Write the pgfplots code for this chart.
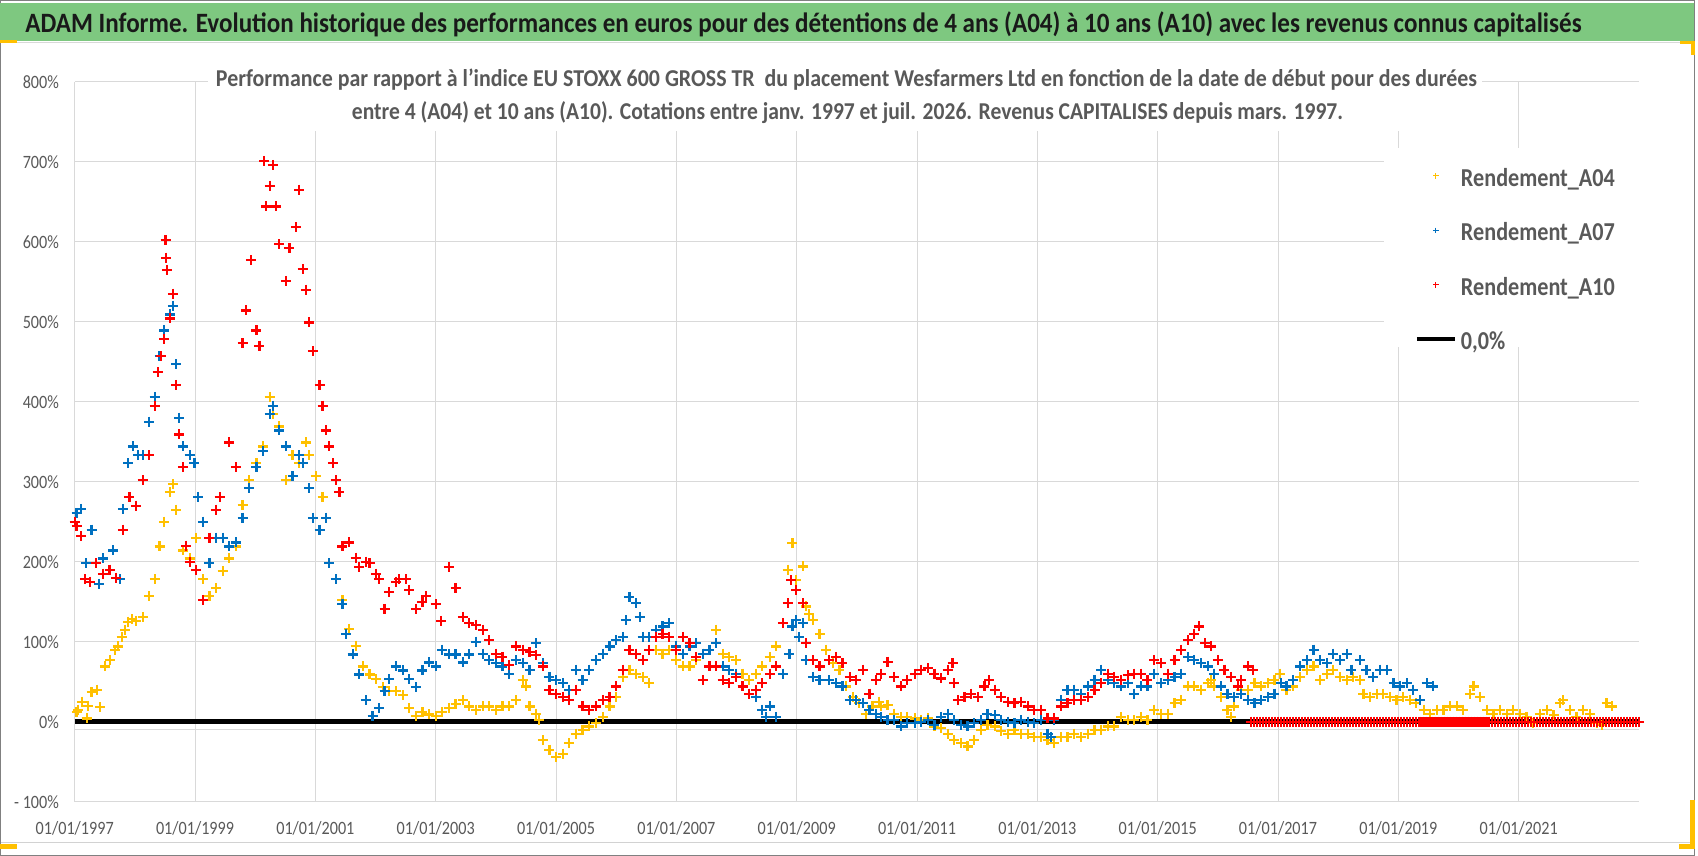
\documentclass[border=0pt]{standalone}
\usepackage{pgfplots}
\pgfplotsset{compat=1.18}
\usepackage{fontspec}
\setmainfont{Carlito}[FakeStretch=0.86]
\usepackage{graphicx}
\definecolor{ayel}{HTML}{FFC000}
\definecolor{ablue}{HTML}{0070C0}
\definecolor{ared}{HTML}{FF0000}
\definecolor{gridg}{HTML}{D9D9D9}
\definecolor{txtg}{HTML}{595959}
\definecolor{titleg}{RGB}{126,200,128}
\pgfplotsset{
  markleg/.style={legend image code/.code={\draw[##1, mark size=1.4pt, line width=0.5pt] plot coordinates {(9.5pt,0pt)};}},
  lineleg/.style={legend image code/.code={\draw[##1] (0pt,0pt) -- (19pt,0pt);}},
  ser/.style={only marks, mark=+, #1, mark size=2.5pt, line width=1.1pt, markleg},
}
\begin{document}
\begin{tikzpicture}[x=0.5pt,y=0.5pt]
\fill[white] (0,0) rectangle (1698,856);
\useasboundingbox (0,0) rectangle (1698,856);
% frame
\draw[gray, line width=0.5pt] (0.75,0.75) rectangle (1694,855.25);
\draw[gray!35, line width=0.5pt] (0.75,13.3) -- (1694,13.3);
% title bar
\fill[titleg] (0,815) rectangle (1694,853);
\draw[gray!30, line width=0.5pt] (0.75,813) -- (1694,813);
\node[anchor=base, inner sep=0pt, text=black!90] at (803.5,823) {\resizebox{778pt}{\height}{\fontsize{14}{14}\selectfont\bfseries ADAM Informe. Evolution historique des performances en euros pour des détentions de 4 ans (A04) à 10 ans (A10) avec les revenus connus capitalisés}};
% selection handles
\fill[ayel] (0,813.3) rectangle (17,816);
\fill[ayel] (1680,812) rectangle (1695,815.3);
\fill[ayel] (1691,801) rectangle (1695,815.3);
\fill[ayel] (0,7) rectangle (17,12);
\fill[ayel] (1679,7) rectangle (1695,12);
\fill[ayel] (1690,7) rectangle (1695,56);
\begin{axis}[
  at={(37.35pt,27.15pt)}, anchor=south west,
  scale only axis, width=782.15pt, height=360pt,
  xmin=1997, xmax=2023, ymin=-100, ymax=800,
  xtick={1997,1999,2001,2003,2005,2007,2009,2011,2013,2015,2017,2019,2021},
  xticklabels={01/01/1997,01/01/1999,01/01/2001,01/01/2003,01/01/2005,01/01/2007,01/01/2009,01/01/2011,01/01/2013,01/01/2015,01/01/2017,01/01/2019,01/01/2021},
  ytick={-100,0,100,200,300,400,500,600,700,800},
  yticklabels={- 100\%,0\%,100\%,200\%,300\%,400\%,500\%,600\%,700\%,800\%},
  grid=major, major grid style={gridg, line width=0.5pt},
  axis line style={draw=none},
  major tick length=0pt,
  tick label style={font=\fontsize{9.4}{10}\selectfont, text=txtg, inner sep=0pt},
  xticklabel style={anchor=base, yshift=-16.65pt},
  yticklabel style={anchor=east, xshift=-7.7pt},
  clip=false,
  legend cell align=left,
  legend style={at={(0.8568,0.8936)}, anchor=north west, draw=none, fill=none,
    inner sep=0pt, outer sep=0pt,
    font=\fontsize{12.9}{14}\selectfont\bfseries, text=txtg,
    row sep=9.75pt,
    cells={anchor=west, text height=12pt, text depth=3pt, inner sep=0pt},
    /tikz/every even column/.append style={column sep=2pt}},
]
\fill[white] (rel axis cs:0.0852,0.9315) rectangle (rel axis cs:0.8996,1.04);
\fill[white] (rel axis cs:0.837,0.6315) rectangle (rel axis cs:1.004,0.9078);
\addplot[forget plot, color=gridg, line width=0.75pt] coordinates {(1997,-9.5) (2023,-9.5)};
\addplot[forget plot, black, line width=2.4pt] coordinates {(1997,0) (2023,0)};
% A04
\addplot[ser=ayel] coordinates {
(1997.03,12)(1997.06,15)(1997.12,25)(1997.20,4)(1997.22,20)(1997.28,37)(1997.37,40)(1997.42,18)
(1997.50,69)(1997.59,77)(1997.67,90)(1997.72,94)(1997.78,106)(1997.84,115)(1997.89,125)(1997.95,128)
(1998.02,126)(1998.13,131)(1998.24,157)(1998.33,178)(1998.41,219)(1998.49,250)(1998.58,287)(1998.63,297)
(1998.69,265)(1998.80,214)(1998.91,204)(1999.02,230)(1999.13,178)(1999.24,157)(1999.35,167)(1999.46,188)
(1999.57,204)(1999.68,219)(1999.79,271)(1999.90,302)(2000.02,323)(2000.13,344)(2000.24,406)(2000.29,385)
(2000.40,369)(2000.51,302)(2000.62,333)(2000.73,323)(2000.85,349)(2000.90,333)(2001.01,307)(2001.12,281)
(2001.23,198)(2001.34,178)(2001.45,152)(2001.56,116)(2001.67,95)(2001.79,69)(2001.90,59)(2002.01,53)
(2002.12,43)(2002.23,38)(2002.34,38)(2002.45,33)(2002.56,17)(2002.67,7)(2002.78,12)(2002.89,9)
(2003.00,7)(2003.11,12)(2003.22,17)(2003.33,22)(2003.45,27)(2003.56,19)
(2003.67,15)(2003.78,19)(2003.89,19)(2004.00,15)(2004.11,19)(2004.22,19)(2004.34,27)(2004.45,52)
(2004.50,44)(2004.56,19)(2004.67,10)(2004.72,2)(2004.78,-23)(2004.89,-35)(2005.00,-44)(2005.11,-40)
(2005.22,-27)(2005.33,-15)(2005.44,-10)(2005.55,-6)(2005.66,-2)(2005.78,6)(2005.89,19)(2006.00,31)
(2006.11,56)(2006.22,65)(2006.33,60)(2006.44,56)(2006.55,48)(2006.66,90)(2006.77,85)(2006.88,90)
(2006.99,77)(2007.11,69)(2007.22,69)(2007.33,77)(2007.44,85)(2007.55,90)(2007.66,115)(2007.77,85)
(2007.88,81)(2007.99,77)(2008.10,60)(2008.21,52)(2008.32,60)(2008.43,69)(2008.55,81)(2008.66,94)
(2008.77,123)(2008.85,190)(2008.93,223)(2008.99,177)(2009.10,194)(2009.16,144)(2009.21,135)(2009.27,127)
(2009.38,110)(2009.49,90)(2009.60,73)(2009.71,65)(2009.82,44)(2009.93,31)(2010.04,23)(2010.15,10)
(2010.26,19)(2010.37,25)
(2010.40,19)(2010.51,21)(2010.62,10)(2010.73,6)(2010.84,6)(2010.96,4)(2011.07,2)(2011.18,4)
(2011.29,-6)(2011.40,-8)(2011.51,-15)(2011.62,-23)(2011.73,-27)(2011.84,-31)(2011.95,-23)(2012.06,-10)
(2012.17,-4)(2012.29,-6)(2012.40,-12)(2012.51,-15)(2012.62,-10)(2012.73,-15)(2012.84,-15)(2012.95,-19)
(2013.06,-19)(2013.17,-23)(2013.28,-27)(2013.39,-19)(2013.50,-19)(2013.61,-15)(2013.73,-19)(2013.84,-15)
(2013.95,-10)(2014.06,-10)(2014.17,-6)(2014.28,-6)(2014.39,6)(2014.50,2)(2014.61,2)(2014.72,6)
(2014.83,2)(2014.94,15)(2015.06,10)(2015.17,10)(2015.28,23)(2015.39,27)(2015.50,44)(2015.61,44)
(2015.72,40)(2015.83,48)(2015.89,52)(2015.94,44)(2016.05,31)(2016.16,15)(2016.22,6)(2016.27,19)
(2016.39,40)(2016.50,40)(2016.61,48)(2016.72,44)(2016.83,48)(2016.94,52)(2017.03,60)
(2017.14,40)(2017.25,44)(2017.37,56)(2017.48,65)(2017.59,69)(2017.70,52)(2017.81,60)(2017.92,65)
(2018.03,56)(2018.14,52)(2018.25,56)(2018.36,52)(2018.42,35)(2018.53,31)(2018.64,35)(2018.75,35)
(2018.86,31)(2018.97,27)(2019.08,31)(2019.19,27)(2019.30,23)(2019.42,15)(2019.53,10)(2019.64,15)
(2019.75,15)(2019.86,19)(2019.97,19)(2020.08,15)(2020.19,35)(2020.25,44)(2020.36,31)(2020.47,15)
(2020.58,10)(2020.69,15)(2020.80,10)(2020.91,15)(2021.02,10)(2021.13,6)(2021.24,-2)(2021.35,10)
(2021.47,15)(2021.58,8)(2021.69,23)(2021.74,27)(2021.85,15)(2021.96,6)(2022.07,15)(2022.19,10)
(2022.30,-2)(2022.38,-4)(2022.46,23)(2022.55,19)
};
\addlegendentry{Rendement\_A04}
% A07
\addplot[ser=ablue] coordinates {
(1997.03,261)(1997.11,266)(1997.19,198)(1997.28,240)(1997.41,172)(1997.47,204)(1997.64,214)(1997.75,178)
(1997.80,266)(1997.89,323)(1997.97,344)(1998.05,333)(1998.13,333)(1998.24,375)(1998.33,406)(1998.41,457)
(1998.49,489)(1998.58,509)(1998.63,520)(1998.69,447)(1998.74,380)(1998.80,344)(1998.91,333)(1998.99,323)
(1999.05,281)(1999.13,250)(1999.24,198)(1999.35,230)(1999.46,230)(1999.57,219)(1999.68,224)(1999.79,255)
(1999.90,292)(2000.02,318)(2000.13,338)(2000.24,385)(2000.29,395)(2000.40,364)(2000.51,344)(2000.62,307)
(2000.73,333)(2000.79,323)(2000.90,292)(2000.96,255)(2001.07,240)(2001.18,255)(2001.23,198)(2001.34,178)
(2001.45,147)(2001.51,110)(2001.62,84)(2001.73,59)(2001.84,27)(2001.95,7)(2002.06,17)(2002.15,38)
(2002.23,53)(2002.34,69)(2002.45,64)(2002.56,53)(2002.67,43)(2002.78,64)(2002.89,74)(2003.00,69)
(2003.11,90)(2003.22,84)(2003.33,84)(2003.45,74)(2003.56,84)(2003.67,100)
(2003.78,85)(2003.89,77)(2004.00,73)(2004.11,69)(2004.22,60)(2004.34,77)(2004.45,73)(2004.56,65)
(2004.67,98)(2004.78,73)(2004.89,56)(2005.00,52)(2005.11,48)(2005.22,40)(2005.33,65)(2005.44,52)
(2005.55,65)(2005.66,77)(2005.78,85)(2005.89,94)(2006.00,102)(2006.11,106)(2006.16,127)(2006.22,156)
(2006.33,148)(2006.39,131)(2006.44,106)(2006.55,106)(2006.66,115)(2006.77,119)(2006.88,123)(2006.99,94)
(2007.11,85)(2007.22,94)(2007.33,98)(2007.44,85)(2007.55,90)(2007.66,98)(2007.77,69)(2007.88,65)
(2007.99,60)(2008.10,44)(2008.21,35)(2008.32,31)(2008.43,15)(2008.49,6)(2008.55,19)(2008.66,6)
(2008.77,60)(2008.88,85)(2008.93,119)(2008.99,127)(2009.04,106)(2009.10,123)(2009.16,77)(2009.27,56)
(2009.38,52)(2009.54,52)(2009.65,48)(2009.76,44)(2009.88,27)(2009.99,27)(2010.10,23)(2010.21,15)
(2010.32,10)
(2010.40,6)(2010.51,2)(2010.62,2)(2010.73,-6)(2010.84,-2)(2010.96,-2)(2011.07,0)(2011.18,2)
(2011.29,-4)(2011.40,6)(2011.51,10)(2011.62,2)(2011.73,-4)(2011.84,-6)(2011.95,-2)(2012.06,2)
(2012.17,10)(2012.29,8)(2012.40,2)(2012.51,0)(2012.62,-2)(2012.73,2)(2012.84,0)(2012.95,-2)
(2013.06,2)(2013.17,-15)(2013.23,-19)(2013.28,2)(2013.39,27)(2013.50,40)(2013.61,40)(2013.73,35)
(2013.84,44)(2013.95,52)(2014.06,65)(2014.17,52)(2014.28,48)(2014.39,44)(2014.50,48)(2014.61,35)
(2014.72,44)(2014.83,44)(2014.94,60)(2015.06,48)(2015.17,52)(2015.28,56)(2015.39,60)(2015.50,81)
(2015.61,77)(2015.72,73)(2015.83,69)(2015.94,60)(2016.05,44)(2016.16,35)(2016.27,31)(2016.39,35)
(2016.50,27)(2016.61,23)(2016.72,27)(2016.83,31)(2016.94,35)(2017.05,48)
(2017.14,44)(2017.25,52)(2017.37,69)(2017.48,77)(2017.59,90)(2017.70,77)(2017.81,73)(2017.92,85)
(2018.03,77)(2018.14,85)(2018.22,65)(2018.36,77)(2018.47,65)(2018.58,56)(2018.70,65)(2018.81,65)
(2018.92,48)(2019.03,44)(2019.14,48)(2019.25,40)(2019.36,27)(2019.47,48)(2019.58,44)
};
\addlegendentry{Rendement\_A07}
% A10
\addplot[ser=ared] coordinates {
(1997.00,250)(1997.03,245)(1997.11,232)(1997.17,178)(1997.25,175)(1997.36,198)(1997.47,185)(1997.58,190)
(1997.69,180)(1997.80,240)(1997.91,281)(1998.02,270)(1998.13,302)(1998.24,333)(1998.33,395)(1998.38,437)
(1998.44,457)(1998.49,478)(1998.51,602)(1998.52,580)(1998.53,565)(1998.58,504)(1998.63,535)(1998.69,421)
(1998.74,359)(1998.80,318)(1998.85,220)(1998.91,200)(1999.02,190)(1999.13,152)(1999.24,230)(1999.35,265)
(1999.41,281)(1999.57,349)(1999.68,318)(1999.79,473)(1999.85,514)(1999.93,577)(2000.02,489)(2000.07,470)
(2000.15,701)(2000.18,644)(2000.24,670)(2000.29,696)(2000.35,644)(2000.40,597)(2000.51,551)(2000.57,592)
(2000.68,618)(2000.73,665)(2000.79,566)(2000.85,540)(2000.90,499)(2000.96,463)(2001.07,421)(2001.12,395)
(2001.18,364)(2001.23,344)(2001.29,323)(2001.34,302)(2001.40,287)(2001.45,219)(2001.56,224)(2001.67,205)
(2001.73,193)(2001.84,200)(2001.90,198)(2002.01,185)(2002.06,178)(2002.15,141)(2002.23,162)(2002.34,175)
(2002.39,178)(2002.50,178)(2002.56,165)(2002.67,141)(2002.78,150)(2002.84,157)(2003.00,147)(2003.09,126)
(2003.22,193)(2003.33,167)(2003.45,131)(2003.56,123)
(2003.67,121)(2003.78,115)(2003.89,102)(2004.00,85)(2004.11,81)(2004.22,71)(2004.34,94)(2004.45,90)
(2004.56,87)(2004.67,83)(2004.78,69)(2004.89,40)(2005.00,35)(2005.11,31)(2005.22,27)(2005.33,40)
(2005.44,19)(2005.55,15)(2005.66,19)(2005.78,27)(2005.89,31)(2006.00,44)(2006.11,65)(2006.22,90)
(2006.33,85)(2006.44,77)(2006.55,90)(2006.66,106)(2006.77,110)(2006.88,106)(2006.99,90)(2007.11,106)
(2007.22,98)(2007.33,81)(2007.44,52)(2007.55,69)(2007.66,69)(2007.77,52)(2007.88,48)(2007.99,56)
(2008.10,44)(2008.21,35)(2008.32,40)(2008.43,48)(2008.55,60)(2008.66,69)(2008.77,123)(2008.85,148)
(2008.91,177)(2008.99,165)(2009.10,148)(2009.16,98)(2009.27,77)(2009.38,69)(2009.54,77)(2009.65,81)
(2009.76,73)(2009.88,56)(2009.99,52)(2010.10,65)(2010.21,35)(2010.32,52)
(2010.40,60)(2010.51,75)(2010.62,56)(2010.73,44)(2010.84,52)(2010.96,60)(2011.07,65)(2011.18,67)
(2011.29,60)(2011.40,54)(2011.51,65)(2011.59,73)(2011.62,48)(2011.68,27)(2011.79,31)(2011.90,35)
(2012.01,31)(2012.12,44)(2012.20,52)(2012.29,40)(2012.40,31)(2012.51,25)(2012.62,23)(2012.73,25)
(2012.84,19)(2012.95,15)(2013.06,15)(2013.17,4)(2013.28,4)(2013.39,19)(2013.50,23)(2013.61,27)
(2013.73,27)(2013.84,31)(2013.95,40)(2014.06,48)(2014.17,60)(2014.28,56)(2014.39,52)(2014.50,58)
(2014.61,60)(2014.72,60)(2014.83,52)(2014.94,77)(2015.06,73)(2015.17,60)(2015.28,77)(2015.39,90)
(2015.50,102)(2015.61,110)(2015.69,119)(2015.78,98)(2015.89,94)(2016.00,77)(2016.11,65)(2016.22,56)
(2016.33,44)(2016.39,52)(2016.50,69)(2016.58,65)
(2016.55,0)(2016.6,0)(2016.65,0)(2016.7,0)(2016.75,0)(2016.8,0)(2016.85,0)(2016.9,0)(2016.95,0)(2017.0,0)
(2017.05,0)(2017.1,0)(2017.15,0)(2017.2,0)(2017.25,0)(2017.3,0)(2017.35,0)(2017.4,0)(2017.45,0)(2017.5,0)
(2017.55,0)(2017.6,0)(2017.65,0)(2017.7,0)(2017.75,0)(2017.8,0)(2017.85,0)(2017.9,0)(2017.95,0)(2018.0,0)
(2018.05,0)(2018.1,0)(2018.15,0)(2018.2,0)(2018.25,0)(2018.3,0)(2018.35,0)(2018.4,0)(2018.45,0)(2018.5,0)
(2018.55,0)(2018.6,0)(2018.65,0)(2018.7,0)(2018.75,0)(2018.8,0)(2018.85,0)(2018.9,0)(2018.95,0)(2019.0,0)
(2019.05,0)(2019.1,0)(2019.15,0)(2019.2,0)(2019.25,0)(2019.3,0)(2019.35,0)(2019.4,0)(2019.45,0)(2019.5,0)
(2019.55,0)(2019.6,0)(2019.65,0)(2019.7,0)(2019.75,0)(2019.8,0)(2019.85,0)(2019.9,0)(2019.95,0)(2020.0,0)
(2020.05,0)(2020.1,0)(2020.15,0)(2020.2,0)(2020.25,0)(2020.3,0)(2020.35,0)(2020.4,0)(2020.45,0)(2020.5,0)
(2020.55,0)(2020.6,0)(2020.65,0)(2020.7,0)(2020.75,0)(2020.8,0)(2020.85,0)(2020.9,0)(2020.95,0)(2021.0,0)
(2021.05,0)(2021.1,0)(2021.15,0)(2021.2,0)(2021.25,0)(2021.3,0)(2021.35,0)(2021.4,0)(2021.45,0)(2021.5,0)
(2021.55,0)(2021.6,0)(2021.65,0)(2021.7,0)(2021.75,0)(2021.8,0)(2021.85,0)(2021.9,0)(2021.95,0)(2022.0,0)
(2022.05,0)(2022.1,0)(2022.15,0)(2022.2,0)(2022.25,0)(2022.3,0)(2022.35,0)(2022.4,0)(2022.45,0)(2022.5,0)
(2022.55,0)(2022.6,0)(2022.65,0)(2022.7,0)(2022.75,0)(2022.8,0)(2022.85,0)(2022.9,0)(2022.95,0)(2023.0,0)
};
\addlegendentry{Rendement\_A10}
\addlegendimage{black, line width=2pt, lineleg}
\addlegendentry{0,0\%}
\end{axis}
% subtitle
\node[anchor=base, inner sep=0pt, text=txtg] at (846.5,769.3) {\resizebox{630.5pt}{\height}{\fontsize{12.1}{12}\selectfont\bfseries Performance par rapport à l'indice EU STOXX 600 GROSS TR\ \ du placement Wesfarmers Ltd en fonction de la date de début pour des durées}};
\node[anchor=base, inner sep=0pt, text=txtg] at (847.5,736) {\resizebox{495.5pt}{\height}{\fontsize{12.1}{12}\selectfont\bfseries entre 4 (A04) et 10 ans (A10). Cotations entre janv. 1997 et juil. 2026. Revenus CAPITALISES depuis mars. 1997.}};
\end{tikzpicture}
\end{document}
